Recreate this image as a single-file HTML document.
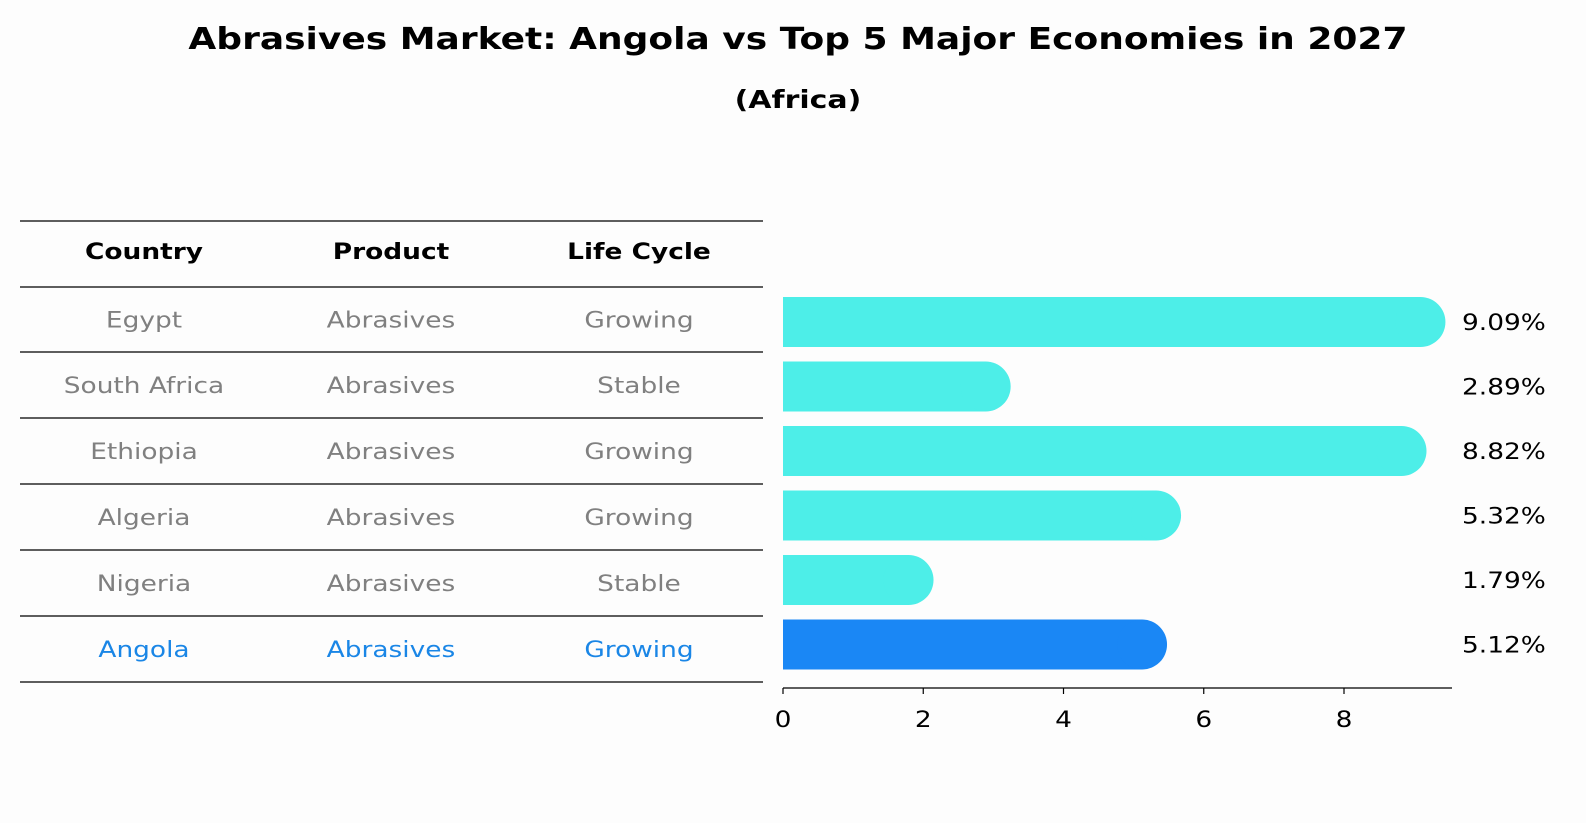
<!DOCTYPE html>
<html><head><meta charset="utf-8"><style>
body{margin:0;background:#fdfdfd;font-family:"DejaVu Sans","Liberation Sans",sans-serif;}
svg{display:block}
</style></head><body>
<svg width="1586" height="823" xmlns="http://www.w3.org/2000/svg" font-family="DejaVu Sans, Liberation Sans, sans-serif">
<rect width="1586" height="823" fill="#fdfdfd"/>
<text class="fit" x="798" y="49" text-anchor="middle" font-weight="bold" font-size="30">Abrasives Market: Angola vs Top 5 Major Economies in 2027</text>
<text class="fit" x="798" y="108" text-anchor="middle" font-weight="bold" font-size="25">(Africa)</text>
<g id="table"></g>
<g id="bars"></g>
</svg>
<script>
const countries=["Egypt","South Africa","Ethiopia","Algeria","Nigeria","Angola"];
const products=["Abrasives","Abrasives","Abrasives","Abrasives","Abrasives","Abrasives"];
const lifeCycles=["Growing","Stable","Growing","Growing","Stable","Growing"];
const values=[9.09,2.89,8.82,5.32,1.79,5.12];
const ticks=[0,2,4,6,8];
const NS="http://www.w3.org/2000/svg";
function mk(tag,attrs,parent){const e=document.createElementNS(NS,tag);for(const k in attrs)e.setAttribute(k,attrs[k]);parent.appendChild(e);return e;}
const table=document.getElementById('table');
const bars=document.getElementById('bars');
const lineYs=[221,287,352,418,484,550,616,682];
lineYs.forEach((y,i)=>{const l=mk('line',{x1:20,x2:763,y1:y,y2:y,stroke:'#000','stroke-width':1.2},table);

});
const colX=[144,391,639];
["Country","Product","Life Cycle"].forEach((h,i)=>{const t=mk('text',{x:colX[i],y:259,'text-anchor':'middle','font-weight':'bold','font-size':22,class:'fit'},table);t.textContent=h;

});
countries.forEach((c,r)=>{const y=(lineYs[r+1]+lineYs[r+2])/2+8;const col=c==="Angola"?"#1a86e6":"#808080";
[c,products[r],lifeCycles[r]].forEach((v,i)=>{const t=mk('text',{x:colX[i],y:y,'text-anchor':'middle','font-size':22,fill:col,class:'fit'},table);t.textContent=v;

});});
const x0=783,pxPer=(1344-783)/8;
const xs=v=>x0+v*pxPer;
const yc=i=>322+i*64.5;
const h=50;
values.forEach((v,i)=>{const col=countries[i]==="Angola"?"#1a87f5":"#4deee8";const y=yc(i);
const r=mk('rect',{x:x0,y:y-h/2,width:xs(v)-x0,height:h,fill:col},bars);


const c=mk('circle',{cx:xs(v),cy:y,r:h/2,fill:col},bars);


const t=mk('text',{x:1462,y:y+8,'font-size':22,class:'fit'},bars);t.textContent=v.toFixed(2)+'%';

});
const ax=mk('line',{x1:x0,x2:1452,y1:688,y2:688,stroke:'#000','stroke-width':1.2},bars);


ticks.forEach(v=>{const tl=mk('line',{x1:xs(v),x2:xs(v),y1:688,y2:694,stroke:'#000','stroke-width':1.2},bars);


const t=mk('text',{x:xs(v),y:727,'text-anchor':'middle','font-size':22,class:'fit'},bars);t.textContent=v;

});
document.querySelectorAll('text.fit').forEach(t=>{try{const w=t.getComputedTextLength();if(w>0){t.setAttribute('textLength',(w*1.2).toFixed(1));t.setAttribute('lengthAdjust','spacingAndGlyphs');}}catch(e){}});
</script>
</body></html>
